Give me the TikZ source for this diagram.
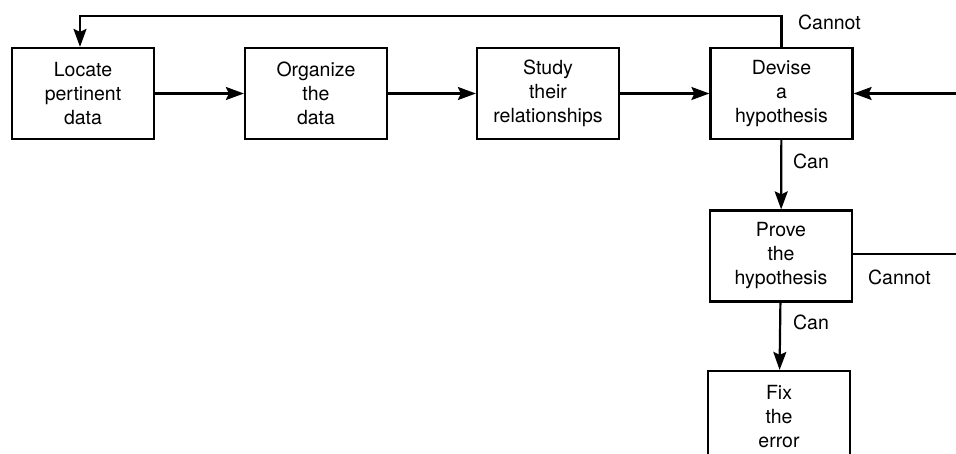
\documentclass[tikz,border=0pt]{standalone}
\usepackage{fontspec}
\setmainfont{TeX Gyre Heros}
\usetikzlibrary{arrows.meta}
\usetikzlibrary{calc}

\begin{document}
\begin{tikzpicture}[x=1pt, y=-1pt,
  stepbox/.style={draw, line width=2.2pt, minimum width=142pt, minimum height=91pt, inner sep=0pt, align=center, font=\fontsize{19.5}{24}\selectfont},
  tag/.style={inner sep=0pt, font=\fontsize{19.5}{24}\selectfont},
  >={Stealth[length=18pt,width=13pt,inset=3pt]}, line width=2.2pt]
\useasboundingbox (0,0) rectangle (956,454);
\node[stepbox] (locate) at (83,93.5) {Locate\\pertinent\\data};
\node[stepbox] (organize) at (316,93.5) {Organize\\the\\data};
\node[stepbox] (study) at (548,93.5) {Study\\their\\relationships};
\node[stepbox] (devise) at (781.5,93.5) {Devise\\a\\hypothesis};
\node[stepbox] (prove) at (781,256) {Prove\\the\\hypothesis};
\node[stepbox] (fix) at (779,416.5) {Fix\\the\\error};
\coordinate (top) at (80,16);
\coordinate (rtop) at (962,93.5);
\coordinate (rbot) at (962,254);
\draw[->] (locate) -- (organize);
\draw[->] (organize) -- (study);
\draw[->] (study) -- (devise);
\draw[->] (devise) -- (prove);
\draw[->] (prove) -- (fix);
\draw[->] (devise.north) |- (top) -- (top |- locate.north);
\draw[->] (prove.east |- rbot) -- (rbot) -- (rtop) -- (devise.east);
\node[tag, anchor=west] (cannot1) at (797,22) {Cannot};
\node[tag, anchor=west] (can1) at (792,161) {Can};
\node[tag, anchor=west] (can2) at (792,322) {Can};
\node[tag, anchor=west] (cannot2) at (867,277) {Cannot};
\end{tikzpicture}
\end{document}
